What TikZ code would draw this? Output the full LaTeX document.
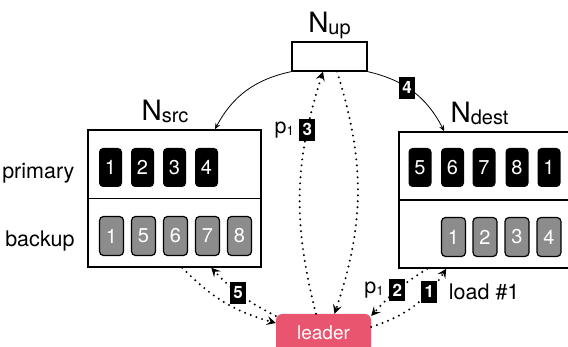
\documentclass[tikz,border=0pt]{standalone}
\usepackage{fontspec}
\setmainfont{TeX Gyre Heros}
\usetikzlibrary{arrows.meta,positioning}

\definecolor{leaderred}{HTML}{E9546F}
\definecolor{cellgray}{HTML}{8C8C8C}

\tikzset{
	prim/.style={fill=black, text=white, rounded corners=4pt, minimum width=23pt, minimum height=39pt, inner sep=0pt, font=\fontsize{20}{20}\selectfont},
	back/.style={prim, fill=cellgray, draw=black, line width=1.2pt, minimum width=24pt, minimum height=39pt},
	tag/.style={fill=black, text=white, inner sep=0pt, minimum width=16pt, minimum height=22pt, font=\bfseries\fontsize{17}{17}\selectfont},
	msg/.style={line width=2.2pt, dash pattern=on 0pt off 6pt, line cap=round, -{Stealth[length=9pt,width=9pt,inset=3.5pt]}},
	ctrl/.style={line width=0.8pt, -{Stealth[length=6pt,width=5pt]}},
	big/.style={font=\fontsize{21.5}{21.5}\selectfont},
	box/.style={draw, line width=1.5pt, inner sep=0pt}
}
\newcommand{\nname}[1]{{\fontsize{28}{28}\selectfont N}{\fontsize{20}{20}\selectfont\raisebox{-2pt}{#1}}}
\newcommand{\pone}{p{\fontsize{13}{13}\selectfont\raisebox{-2pt}{1}}}

\begin{document}
\begin{tikzpicture}[x=1pt,y=-1pt]
	\clip (0,0) rectangle (568,347);

	% machines
	\node (src) [box, minimum width=173pt, minimum height=137pt] at (174.5,198.5) {};
	\draw [line width=1.2pt] (src.west) -- (src.east);
	\node (dest) [box, minimum width=191pt, minimum height=136pt] at (494.5,200) {};
	\draw [line width=1.2pt] (dest.west) -- (dest.east);
	\node (up) [box, line width=1.2pt, minimum width=75pt, minimum height=29pt] at (329.5,56.5) {};

	\node (srcname) [anchor=base] at (165,121) {\nname{src}};
	\node (upname) [anchor=base] at (329.5,33) {\nname{up}};
	\node (destname) [anchor=base] at (479.5,123) {\nname{dest}};

	\node (primary) [big, anchor=base east] at (78,179) {primary};
	\node (backup) [big, anchor=base east] at (78,247) {backup};

	% partitions on N_src
	\node (sp1) [prim] at (110.5,167.5) {1};
	\node (sp2) [prim] at (142.5,167.5) {2};
	\node (sp3) [prim] at (174.5,167.5) {3};
	\node (sp4) [prim] at (206.5,167.5) {4};

	\node (sb1) [back] at (111.5,236) {1};
	\node (sb5) [back] at (143.5,236) {5};
	\node (sb6) [back] at (175.5,236) {6};
	\node (sb7) [back] at (207.5,236) {7};
	\node (sb8) [back] at (239.5,236) {8};

	% partitions on N_dest
	\node (dp5) [prim] at (420,167.5) {5};
	\node (dp6) [prim] at (452.5,167.5) {6};
	\node (dp7) [prim] at (484,167.5) {7};
	\node (dp8) [prim] at (517,167.5) {8};
	\node (dp1) [prim] at (549,167.5) {1};

	\node (db1) [back] at (453.5,237) {1};
	\node (db2) [back] at (485,237) {2};
	\node (db3) [back] at (517,237) {3};
	\node (db4) [back] at (549,237) {4};

	\node (leader) [fill=leaderred, text=white, rounded corners=6pt, minimum width=95pt, minimum height=38pt, font=\fontsize{19}{19}\selectfont] at (323.5,333) {leader};

	% control arcs
	\draw [ctrl] (up.south west) to [bend right=25] ([xshift=40.5pt]src.north);
	\draw [ctrl] (up.south east) to [bend left=25] node [tag, pos=0.42] {4} ([xshift=46pt]dest.north west);

	% messages
	\draw [msg] ([xshift=-7.5pt]leader.north) to [bend left=16] node [tag, pos=0.77] (t3) {3} ([xshift=-6.5pt]up.south);
	\node [big, left=1pt of t3] {\pone};
	\draw [msg] ([xshift=7.5pt]up.south) to [bend left=18] ([xshift=11pt]leader.north);

	\draw [msg] ([xshift=95pt]src.south west) to [bend right=15] ([yshift=10pt]leader.west);
	\draw [msg] ([yshift=17pt]leader.west) to [bend left=10] node [tag, pos=0.55] {5} ([xshift=124pt]src.south west);

	\draw [msg] ([xshift=29pt]dest.south west) to [bend right=8] node [tag, pos=0.5] (t2) {2} ([yshift=17pt]leader.east);
	\node [big, left=1pt of t2] {\pone};
	\draw [msg] ([yshift=6pt]leader.east) to [bend right=20] node [tag, pos=0.72] (t1) {1} ([xshift=48pt]dest.south west);
	\node [big, right=7pt of t1] {load \#1};
\end{tikzpicture}
\end{document}
